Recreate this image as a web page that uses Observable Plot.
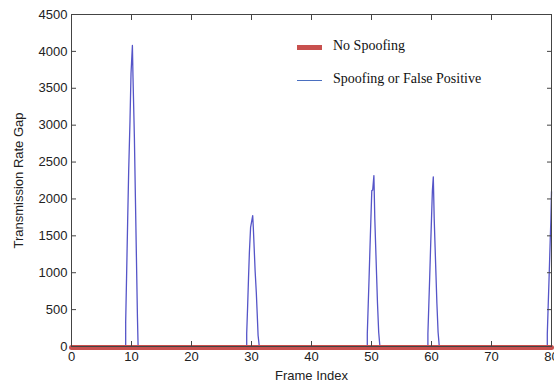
<!DOCTYPE html>
<html>
<head>
<meta charset="utf-8">
<script src="https://cdn.jsdelivr.net/npm/d3@7"></script>
<script src="https://cdn.jsdelivr.net/npm/@observablehq/plot@0.6"></script>
<style>
  html, body { margin: 0; padding: 0; background: #fff; overflow: hidden; }
  #wrap { position: relative; width: 554px; height: 381px; }
  .leg { position: absolute; font-family: "Liberation Serif", "Times New Roman", serif; font-size: 14px; color: #111; white-space: nowrap; }
  .sw { position: absolute; }
</style>
</head>
<body>
<div id="wrap"></div>
<script>
// "No Spoofing" series (gap = 0 everywhere)
const noSpoofX = [0, 80];
const noSpoofY = [0, 0];

// "Spoofing or False Positive" series: spikes near frames 10, 30, 50, 60, 80
const spoofX = [
  0, 9.03, 9.03, 9.2, 9.36, 9.53, 9.75, 9.92, 10.15, 10.25, 10.48, 10.65, 10.82, 10.99, 11.1,
  29.2, 29.2, 29.35, 29.5, 29.65, 29.85, 30.2, 30.3, 30.45, 30.6, 30.8, 30.95, 31.1, 31.3,
  49.3, 49.3, 49.45, 49.6, 49.75, 49.9, 50.05, 50.2, 50.4, 50.55, 50.7, 50.85, 51.0, 51.2, 51.4,
  59.4, 59.4, 59.55, 59.7, 59.85, 60.0, 60.15, 60.3, 60.45, 60.6, 60.75, 60.9, 61.1, 61.3,
  79.3, 79.3, 79.45, 79.6, 79.75, 79.9, 80
];
const spoofY = [
  0, 0, 330, 1030, 1700, 2380, 3060, 3700, 4080, 3650, 2840, 2020, 1210, 400, 0,
  0, 176, 532, 920, 1280, 1615, 1775, 1616, 1328, 1030, 736, 447, 149, 0,
  0, 172, 556, 939, 1345, 1730, 2114, 2120, 2317, 1734, 1345, 962, 583, 194, 0,
  0, 172, 556, 939, 1345, 1730, 2114, 2300, 1734, 1345, 962, 583, 194, 0,
  0, 170, 560, 940, 1340, 1730, 2100
];

const xTicks = [0, 10, 20, 30, 40, 50, 60, 70, 80];
const yTicks = [0, 500, 1000, 1500, 2000, 2500, 3000, 3500, 4000, 4500];
const legendLabels = ["No Spoofing", "Spoofing or False Positive"];

const noSpoof = noSpoofX.map((x, i) => ({x, y: noSpoofY[i]}));
const spoof = spoofX.map((x, i) => ({x, y: spoofY[i]}));

const axisColor = "#444";
const plain = d => String(d);

const chart = Plot.plot({
  width: 554,
  height: 381,
  marginLeft: 71,
  marginRight: 3,
  marginTop: 14,
  marginBottom: 35,
  style: {background: "#fff", fontFamily: "'Liberation Sans', Arial, sans-serif", fontSize: "13px", color: "#222", overflow: "hidden"},
  x: {domain: [0, 80]},
  y: {domain: [0, 4500]},
  marks: [
    Plot.line(spoof, {x: "x", y: "y", stroke: "#5555c8", strokeWidth: 1.3}),
    Plot.line(noSpoof, {x: "x", y: "y", stroke: "#c8504e", strokeWidth: 5, dy: 1}),
    Plot.frame({stroke: axisColor}),
    // tick labels
    Plot.axisX({ticks: xTicks, tickSize: 0, tickPadding: 5, tickFormat: plain, label: "Frame Index", labelAnchor: "center", labelOffset: 33, labelArrow: "none", fill: "#222"}),
    Plot.axisY({ticks: yTicks, tickSize: 0, tickPadding: 4, tickFormat: plain, label: "Transmission Rate Gap", labelAnchor: "center", labelOffset: 58, labelArrow: "none", fill: "#222"}),
    // inward ticks on all four sides
    Plot.axisX({ticks: xTicks, anchor: "bottom", tickSize: -5, tickFormat: () => "", label: null, stroke: axisColor}),
    Plot.axisX({ticks: xTicks, anchor: "top", tickSize: -5, tickFormat: () => "", label: null, stroke: axisColor}),
    Plot.axisY({ticks: yTicks, anchor: "left", tickSize: -5, tickFormat: () => "", label: null, stroke: axisColor}),
    Plot.axisY({ticks: yTicks, anchor: "right", tickSize: -5, tickFormat: () => "", label: null, stroke: axisColor})
  ]
});

const wrap = document.getElementById("wrap");
wrap.appendChild(chart);

// Legend (inside plot area, no box)
const legendItems = [
  {label: legendLabels[0], color: "#c8504e", thick: 5, top: 47},
  {label: legendLabels[1], color: "#4a6fc0", thick: 1, top: 80}
];
for (const it of legendItems) {
  const sw = document.createElement("div");
  sw.className = "sw";
  sw.style.left = "297px";
  sw.style.width = "25px";
  sw.style.top = (it.top - it.thick / 2) + "px";
  sw.style.height = it.thick + "px";
  sw.style.background = it.color;
  wrap.appendChild(sw);
  const t = document.createElement("div");
  t.className = "leg";
  t.textContent = it.label;
  t.style.left = "333px";
  t.style.top = (it.top - 9) + "px";
  wrap.appendChild(t);
}
</script>
</body>
</html>
